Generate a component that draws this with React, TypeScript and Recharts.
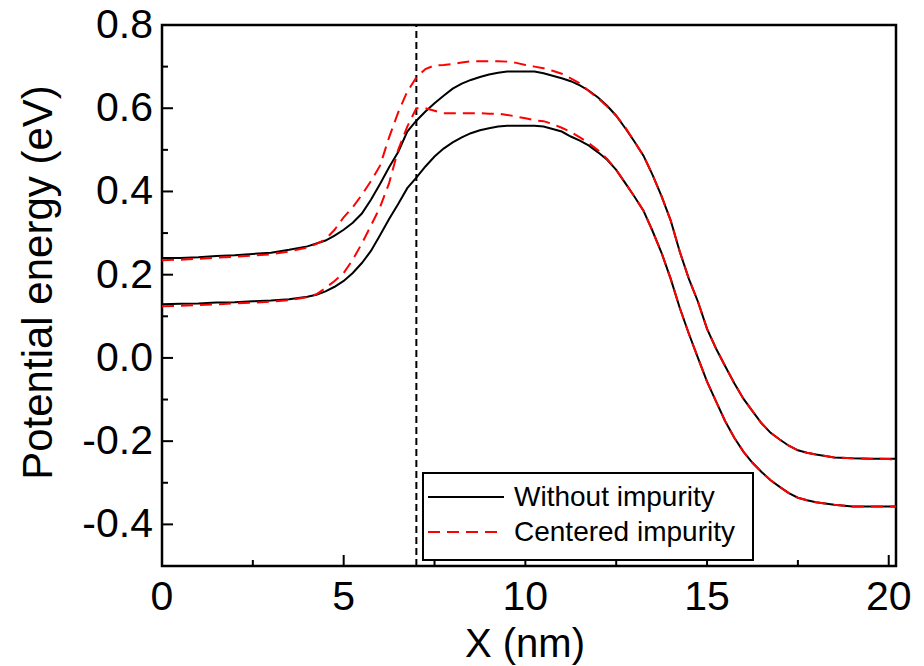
import {
    LineChart,
    Line,
    XAxis,
    YAxis,
    ReferenceLine,
    ReferenceArea,
    Legend,
    Label
} from "recharts";

// x positions (nm), shared by all four curves
const xNm = [
    0, 0.5, 1, 1.5, 2, 2.5, 3, 3.5,
    4, 4.25, 4.5, 4.75, 5, 5.25, 5.5, 5.75, 6, 6.25, 6.5, 6.75,
    7, 7.25, 7.5, 7.75, 8, 8.25, 8.5, 8.75, 9, 9.25, 9.5, 9.75,
    10, 10.25, 10.5, 10.75, 11, 11.25, 11.5, 11.75, 12, 12.25, 12.5, 12.75,
    13, 13.25, 13.5, 13.75, 14, 14.25, 14.5, 14.75, 15, 15.25, 15.5, 15.75,
    16, 16.25, 16.5, 16.75, 17, 17.25, 17.5, 17.75, 18,
    18.5, 19, 19.5, 20, 20.2
];

// without impurity, upper and lower band
const withoutUpper = [
    0.240, 0.240, 0.242, 0.245, 0.247, 0.250, 0.253, 0.260,
    0.268, 0.275, 0.282, 0.294, 0.308, 0.325, 0.347, 0.380, 0.418, 0.458, 0.495, 0.544,
    0.570, 0.592, 0.612, 0.630, 0.647, 0.659, 0.668, 0.675, 0.681, 0.685, 0.688, 0.688,
    0.688, 0.688, 0.684, 0.678, 0.672, 0.665, 0.655, 0.642, 0.626, 0.606, 0.582, 0.552,
    0.520, 0.486, 0.440, 0.388, 0.330, 0.255, 0.190, 0.135, 0.070, 0.022, -0.020, -0.061,
    -0.098, -0.128, -0.157, -0.180, -0.196, -0.211, -0.222, -0.228, -0.232,
    -0.239, -0.241, -0.242, -0.242, -0.242
];
const withoutLower = [
    0.129, 0.130, 0.131, 0.133, 0.134, 0.136, 0.138, 0.141,
    0.147, 0.152, 0.160, 0.171, 0.185, 0.204, 0.228, 0.257, 0.295, 0.334, 0.370, 0.408,
    0.433, 0.460, 0.484, 0.503, 0.518, 0.530, 0.540, 0.547, 0.552, 0.556, 0.558, 0.558,
    0.558, 0.558, 0.556, 0.550, 0.544, 0.532, 0.522, 0.510, 0.494, 0.476, 0.452, 0.420,
    0.388, 0.354, 0.305, 0.252, 0.190, 0.120, 0.058, 0.000, -0.057, -0.105, -0.152, -0.192,
    -0.225, -0.252, -0.274, -0.294, -0.310, -0.325, -0.336, -0.342, -0.347,
    -0.353, -0.357, -0.357, -0.357, -0.357
];

// centered impurity, upper and lower band
const centeredUpper = [
    0.235, 0.236, 0.238, 0.241, 0.243, 0.246, 0.249, 0.256,
    0.265, 0.274, 0.285, 0.308, 0.338, 0.362, 0.392, 0.425, 0.462, 0.530, 0.590, 0.640,
    0.674, 0.694, 0.703, 0.704, 0.706, 0.710, 0.713, 0.713, 0.713, 0.713, 0.712, 0.709,
    0.704, 0.700, 0.696, 0.690, 0.683, 0.672, 0.660, 0.641, 0.624, 0.604, 0.582, 0.554,
    0.520, 0.486, 0.440, 0.388, 0.330, 0.255, 0.190, 0.135, 0.070, 0.022, -0.020, -0.061,
    -0.098, -0.128, -0.157, -0.180, -0.196, -0.211, -0.222, -0.228, -0.232,
    -0.239, -0.241, -0.242, -0.243, -0.245
];
const centeredLower = [
    0.124, 0.125, 0.127, 0.129, 0.131, 0.133, 0.135, 0.139,
    0.146, 0.153, 0.168, 0.185, 0.204, 0.236, 0.275, 0.318, 0.362, 0.420, 0.500, 0.556,
    0.600, 0.600, 0.594, 0.588, 0.588, 0.588, 0.588, 0.588, 0.587, 0.587, 0.584, 0.580,
    0.576, 0.571, 0.569, 0.562, 0.553, 0.543, 0.530, 0.516, 0.499, 0.478, 0.452, 0.420,
    0.388, 0.354, 0.305, 0.252, 0.190, 0.120, 0.058, 0.000, -0.057, -0.105, -0.152, -0.192,
    -0.225, -0.252, -0.274, -0.294, -0.310, -0.325, -0.336, -0.342, -0.347,
    -0.353, -0.357, -0.357, -0.357, -0.357
];

const xTicks = [0, 2.5, 5, 7.5, 10, 12.5, 15, 17.5, 20];
const yTicks = [-0.4, -0.3, -0.2, -0.1, 0, 0.1, 0.2, 0.3, 0.4, 0.5, 0.6, 0.7, 0.8];
const impurityX = 7;
const legendKeys = ["wU", "cU"];

const FONT = "'Liberation Sans', Arial, sans-serif";
const RED_DASH = "12 7";

const data = xNm.map((x, i) => ({
    x,
    wU: withoutUpper[i],
    wL: withoutLower[i],
    cU: centeredUpper[i],
    cL: centeredLower[i]
}));

const XTick = (props: any) => {
    const { x, y, payload } = props;
    const major = payload.value % 5 === 0;
    return (
        <g>
            <line x1={x} y1={y} x2={x} y2={y - (major ? 11 : 6)} stroke="#000" strokeWidth={2} />
            {major && (
                <text x={x} y={y + 44} textAnchor="middle" fontSize={41} fontFamily={FONT} fill="#000">
                    {payload.value}
                </text>
            )}
        </g>
    );
};

const YTick = (props: any) => {
    const { x, y, payload } = props;
    const major = Math.round(payload.value * 10) % 2 === 0;
    return (
        <g>
            <line x1={x} y1={y} x2={x + (major ? 11 : 6)} y2={y} stroke="#000" strokeWidth={2} />
            {major && (
                <text x={x - 9} y={y + 13} textAnchor="end" fontSize={41} fontFamily={FONT} fill="#000">
                    {payload.value.toFixed(1)}
                </text>
            )}
        </g>
    );
};

const YTitle = (props: any) => {
    const { viewBox } = props;
    const cx = viewBox.x + 41;
    const cy = viewBox.y + viewBox.height / 2 - 13;
    return (
        <text x={cx} y={cy} dy="0.26em" textAnchor="middle" fontSize={42} fontFamily={FONT}
            fill="#000" transform={`rotate(-90, ${cx}, ${cy})`}>
            Potential energy (eV)
        </text>
    );
};

const XTitle = (props: any) => {
    const { viewBox } = props;
    return (
        <text x={viewBox.x + viewBox.width / 2 - 4} y={viewBox.y + 91} textAnchor="middle"
            fontSize={40} fontFamily={FONT} fill="#000">
            X (nm)
        </text>
    );
};

const LegendBox = (props: any) => {
    const { payload } = props;
    const items = legendKeys
        .map((k) => (payload || []).find((e: any) => e.dataKey === k))
        .filter(Boolean);
    return (
        <div style={{
            border: "2px solid #000", background: "#fff", width: 328, height: 80,
            paddingTop: 5, boxSizing: "content-box", fontFamily: FONT
        }}>
            {items.map((entry: any) => (
                <div key={entry.value} style={{ display: "flex", alignItems: "center", height: 35 }}>
                    <svg width={90} height={6} style={{ flex: "none" }}>
                        <line x1={4} y1={3} x2={80} y2={3} stroke={entry.color} strokeWidth={2}
                            strokeDasharray={entry.payload?.strokeDasharray} />
                    </svg>
                    <span style={{ fontSize: 28, color: "#000", whiteSpace: "nowrap" }}>{entry.value}</span>
                </div>
            ))}
        </div>
    );
};

export default function App() {
    return (
        <div style={{ position: "absolute", left: 0, top: 0 }}>
            <LineChart width={924} height={666} data={data}
                margin={{ top: 25, right: 28, bottom: 0, left: 0 }}>
                <XAxis dataKey="x" type="number" domain={[0, 20.2]} ticks={xTicks} interval={0}
                    tickSize={0} tickMargin={0} axisLine={false} tickLine={false}
                    tick={<XTick />} height={100} allowDataOverflow>
                    <Label content={<XTitle />} />
                </XAxis>
                <YAxis type="number" domain={[-0.5, 0.8]} ticks={yTicks} interval={0}
                    tickSize={0} tickMargin={0} axisLine={false} tickLine={false}
                    tick={<YTick />} width={162} allowDataOverflow>
                    <Label content={<YTitle />} />
                </YAxis>
                <ReferenceArea x1={0} x2={20.2} y1={-0.5} y2={0.8} fill="none"
                    stroke="#000" strokeWidth={2.5} />
                <ReferenceLine x={impurityX} stroke="#000" strokeWidth={2} strokeDasharray="7 4" />
                <Line dataKey="wU" name="Without impurity" type="linear" stroke="#000" strokeWidth={2}
                    dot={false} activeDot={false} isAnimationActive={false} />
                <Line dataKey="wL" name="Without impurity (lower)" legendType="none" type="linear"
                    stroke="#000" strokeWidth={2} dot={false} activeDot={false} isAnimationActive={false} />
                <Line dataKey="cU" name="Centered impurity" type="linear" stroke="#ff0000" strokeWidth={2}
                    strokeDasharray={RED_DASH} dot={false} activeDot={false} isAnimationActive={false} />
                <Line dataKey="cL" name="Centered impurity (lower)" legendType="none" type="linear"
                    stroke="#ff0000" strokeWidth={2} strokeDasharray={RED_DASH} dot={false} activeDot={false}
                    isAnimationActive={false} />
                <Legend layout="vertical" align="center" verticalAlign="middle" content={<LegendBox />}
                    wrapperStyle={{ left: 422, top: 472, width: 332, height: 87 }} />
            </LineChart>
        </div>
    );
}
